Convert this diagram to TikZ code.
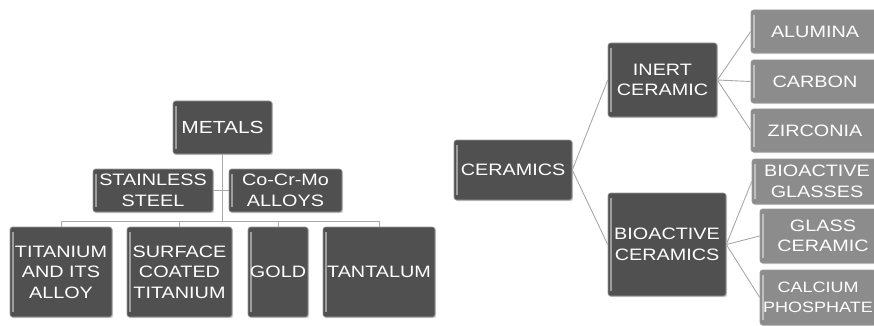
\documentclass[tikz,border=0pt]{standalone}
\usepackage{fontspec}
\setmainfont{Liberation Sans}[FakeStretch=1.2]
\usetikzlibrary{shadows}
\definecolor{dkbox}{HTML}{505050}
\definecolor{ltbox}{HTML}{8C8C8C}
\definecolor{edge}{HTML}{9A9A9A}
\definecolor{conn}{HTML}{A8A8A8}
\tikzset{
  box/.style={rectangle, rounded corners=2.5pt, draw=edge, line width=0.6pt,
    text=white, align=center, inner sep=1pt,
    font=\fontsize{16.5}{20.5}\selectfont,
    drop shadow={opacity=0.35, shadow xshift=1.2pt, shadow yshift=-1.2pt},
    path picture={\draw[white, opacity=0.45, line width=1.2pt]
      ([xshift=3pt,yshift=-5pt]path picture bounding box.north west) --
      ([xshift=3pt,yshift=5pt]path picture bounding box.south west);}},
  dk/.style={box, fill=dkbox},
  lt/.style={box, fill=ltbox},
  link/.style={draw=conn, line width=0.9pt}
}
\begin{document}
\begin{tikzpicture}[x=1pt,y=-1pt]
\useasboundingbox[fill=white] (0,0) rectangle (874,326);
% METALS tree
\node[dk, minimum width=99pt, minimum height=53pt, font=\fontsize{17.5}{21}\selectfont] (metals) at (222.5,127.5) {METALS};
\node[dk, minimum width=120pt, minimum height=43pt] (ss) at (153,190.5) {STAINLESS\\STEEL};
\node[dk, minimum width=113pt, minimum height=43pt] (ccm) at (285.5,190.5) {Co-Cr-Mo\\ALLOYS};
\node[dk, minimum width=102pt, minimum height=90pt] (ti) at (61,272) {TITANIUM\\AND ITS\\ALLOY};
\node[dk, minimum width=105pt, minimum height=90pt] (sct) at (179.5,272) {SURFACE\\COATED\\TITANIUM};
\node[dk, minimum width=60pt, minimum height=90pt] (gold) at (278,272) {GOLD};
\node[dk, minimum width=112pt, minimum height=90pt] (tant) at (379,272) {TANTALUM};
\coordinate (bus) at (222.5,221);
\draw[link] (metals.south) -- (bus);
\draw[link] (ss.east) -- (ccm.west);
\draw[link] (ti.north |- bus) -- (tant.north |- bus);
\draw[link] (ti.north |- bus) -- (ti.north);
\draw[link] (sct.north |- bus) -- (sct.north);
\draw[link] (gold.north |- bus) -- (gold.north);
\draw[link] (tant.north |- bus) -- (tant.north);
% CERAMICS tree
\node[dk, minimum width=118pt, minimum height=60pt] (cer) at (513,170) {CERAMICS};
\node[dk, minimum width=109pt, minimum height=74pt] (inert) at (662.5,80) {INERT\\CERAMIC};
\node[dk, minimum width=118pt, minimum height=103pt] (bio) at (667,244.5) {BIOACTIVE\\CERAMICS};
\node[lt, minimum width=128pt, minimum height=43pt] (alu) at (815,31.5) {ALUMINA};
\node[lt, minimum width=128pt, minimum height=43pt] (carb) at (815,81.5) {CARBON};
\node[lt, minimum width=128pt, minimum height=43pt] (zirc) at (815,130.5) {ZIRCONIA};
\node[lt, minimum width=130pt, minimum height=45pt] (bgl) at (817,181.5) {BIOACTIVE\\GLASSES};
\node[lt, minimum width=126pt, minimum height=54pt] (gcer) at (823,236) {GLASS\\CERAMIC};
\node[lt, minimum width=116pt, minimum height=55pt, font=\fontsize{15}{20}\selectfont] (calc) at (818,297.5) {CALCIUM\\PHOSPHATE};
\draw[link] (cer.east) -- (inert.west);
\draw[link] (cer.east) -- (bio.west);
\draw[link] (inert.east) -- (alu.west);
\draw[link] (inert.east) -- (carb.west);
\draw[link] (inert.east) -- (zirc.west);
\draw[link] (bio.east) -- (bgl.west);
\draw[link] (bio.east) -- (gcer.west);
\draw[link] (bio.east) -- (calc.west);
\end{tikzpicture}
\end{document}
